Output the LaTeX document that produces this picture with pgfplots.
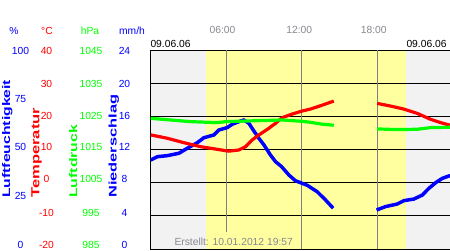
\documentclass[border=0pt]{standalone}
\usepackage{graphicx}
\usepackage{pgfplots}
\pgfplotsset{compat=1.18}
\usepackage{fontspec}
\setmainfont{Liberation Sans}
\definecolor{bggray}{RGB}{242,242,242}
\definecolor{sunyellow}{RGB}{255,255,160}
\definecolor{txtgray}{RGB}{136,136,144}
\definecolor{vgrid}{RGB}{128,128,128}
\newcommand\sm{\fontsize{10.3pt}{12pt}\selectfont}
\begin{document}
\begin{tikzpicture}[x=1pt,y=1pt]
\useasboundingbox (0,0) rectangle (450,250);
\clip (0,0) rectangle (450,250);
\fill[white] (0,0) rectangle (450,250);
\pgfplotsset{base/.style={at={(150.7pt,1pt)}, anchor=south west, scale only axis,
  width=302pt, height=199pt, xmin=0, xmax=24, clip=true}}
% background
\begin{axis}[base, ymin=0, ymax=100, hide axis]
\fill[bggray] (axis cs:0,0) rectangle (axis cs:24,100);
\fill[sunyellow] (axis cs:4.39,0) rectangle (axis cs:20.27,100);
\end{axis}
% grid and frame
\begin{axis}[base, ymin=0, ymax=100, xtick=\empty,
  ytick={16.667,33.333,50,66.667,83.333}, yticklabels={},
  ymajorgrids, major tick length=0pt,
  grid style={black, line width=1pt},
  axis line style={black, line width=1pt}]
\draw[vgrid, line width=1pt] (axis cs:6,8.5) -- (axis cs:6,100);
\draw[vgrid, line width=1pt] (axis cs:12,0) -- (axis cs:12,100);
\draw[vgrid, line width=1pt] (axis cs:18,0) -- (axis cs:18,100);
\end{axis}
% humidity
\begin{axis}[base, ymin=0, ymax=100, hide axis]
\addplot[blue, line width=3.5pt, mark=none] coordinates {
(0,44.7) (0.53,46.4) (1.31,46.9) (2.24,48.1) (2.9,50.6) (3.7,53.4) (4.22,55.9)
(5.02,57.3) (5.41,59.8) (6.08,61.0) (6.48,62.7) (7.14,64.3) (7.4,64.8) (7.8,63.2)
(8.2,59.3) (8.6,55.6) (9.0,52.3) (9.52,47.2) (9.92,43.9) (10.4,41.4) (10.98,37.2)
(11.5,34.3) (12.04,33.0) (12.44,32.0) (13.23,28.8) (13.9,24.6) (14.5,20.5)};
\addplot[blue, line width=3.5pt, mark=none] coordinates {
(17.95,19.6) (18.66,21.3) (19.59,22.6) (20.12,24.3) (20.91,25.1) (21.58,27.1)
(22.11,30.5) (22.64,33.3) (23.17,35.5) (23.7,36.7) (24,37)};
\end{axis}
% temperature
\begin{axis}[base, ymin=-20, ymax=40, hide axis]
\addplot[red, line width=3.2pt, mark=none] coordinates {
(0,14.4) (1.31,13.4) (2.64,12.05) (3.96,10.85) (5.29,10.05) (6.2,9.5) (7.0,9.85)
(7.54,10.85) (8.07,12.9) (8.6,14.4) (9.39,16.4) (9.92,17.9) (10.45,19.6)
(11.25,20.7) (12.04,21.6) (12.7,22.2) (13.5,23.2) (14.55,24.6)};
\addplot[red, line width=3.2pt, mark=none] coordinates {
(18.0,23.9) (19.06,23.1) (20.1,22.2) (21.18,20.9) (22.24,19.1) (23.04,18.1) (23.7,17.4) (24,17.2)};
\end{axis}
% pressure
\begin{axis}[base, ymin=985, ymax=1045, hide axis]
\addplot[green, line width=3.2pt, mark=none] coordinates {
(0,1024.4) (1.57,1023.9) (3.16,1023.4) (5.29,1023.1) (5.95,1023.4) (8.6,1023.7)
(10.45,1023.9) (12.04,1023.5) (12.7,1023.2) (13.5,1022.7) (14.55,1022.3)};
\addplot[green, line width=3.2pt, mark=none] coordinates {
(18.0,1021.2) (19.6,1021.0) (21.18,1021.1) (22.24,1021.6) (23.7,1021.7) (24,1021.7)};
\end{axis}
% unit labels
\begin{scope}[every node/.style={inner sep=0pt}]
\node[anchor=base, blue] at (14,215.8) {\sm \%};
\node[anchor=base, red] at (47,215.8) {\sm °C};
\node[anchor=base, green] at (90,215.8) {\sm hPa};
\node[anchor=base, blue] at (132,215.8) {\sm mm/h};
% humidity ticks
\foreach \v/\yy in {100/196, 75/148, 50/99.3, 25/50.3, 0/2}
  \node[anchor=base, blue] at (20.5,\yy) {\sm \v};
% temperature ticks
\foreach \v/\yy in {40/196, 30/163, 20/130.7, 10/99.3, 0/67.3, -10/34, -20/2}
  \node[anchor=base, red] at (46.5,\yy) {\sm \v};
% pressure ticks
\foreach \v/\yy in {1045/196, 1035/163, 1025/130.7, 1015/99.3, 1005/67.3, 995/34, 985/2}
  \node[anchor=base, green] at (91,\yy) {\sm \v};
% precipitation ticks
\foreach \v/\yy in {24/196, 20/163, 16/130.7, 12/99.3, 8/67.3, 4/34, 0/2}
  \node[anchor=base, blue] at (124.5,\yy) {\sm \v};
% rotated axis titles
\node[anchor=base west, rotate=90, blue] at (10,52) {\resizebox{118pt}{8pt}{\bfseries Luftfeuchtigkeit}};
\node[anchor=base west, rotate=90, red] at (39.3,52) {\resizebox{90pt}{8pt}{\bfseries Temperatur}};
\node[anchor=base west, rotate=90, green] at (77,52) {\resizebox{73pt}{8pt}{\bfseries Luftdruck}};
\node[anchor=base west, rotate=90, blue] at (116.7,52) {\resizebox{103pt}{8pt}{\bfseries Niederschlag}};
% time labels
\node[anchor=base, txtgray] at (222.5,216.7) {\sm 06:00};
\node[anchor=base, txtgray] at (299.2,216.7) {\sm 12:00};
\node[anchor=base, txtgray] at (373.8,216.7) {\sm 18:00};
% dates
\node[anchor=base west] at (150.3,202.7) {\sm 09.06.06};
\node[anchor=base east] at (446.8,202.7) {\sm 09.06.06};
% created
\node[anchor=base west, txtgray] at (174.3,4.3) {\sm Erstellt: 10.01.2012 19:57};
\end{scope}
\end{tikzpicture}
\end{document}
